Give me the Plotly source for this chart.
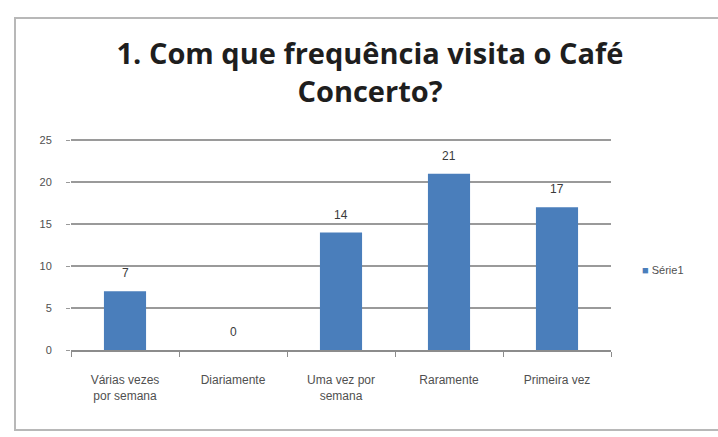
import plotly.graph_objects as go

# Survey answers: how often respondents visit the Café Concerto
categories = ["Várias vezes<br>por semana", "Diariamente", "Uma vez por<br>semana", "Raramente", "Primeira vez"]
counts = [7, 0, 14, 21, 17]
series_name = "Série1"
y_ticks = [0, 5, 10, 15, 20, 25]
y_max = 25.5  # a little headroom so the top gridline at 25 is drawn

bar_color = "#4a7ebb"
text_color = "#505050"
small_font = dict(family="Liberation Sans, Arial, sans-serif", size=11, color=text_color)

# plot box in pixels: value 0 sits at y=350, value 25 at y=140
px_per_unit = (350 - 140) / 25
plot_left, plot_right, plot_bottom = 71, 611, 350
plot_top = round(plot_bottom - y_max * px_per_unit)
pw, ph = plot_right - plot_left, plot_bottom - plot_top


def px_x(px):
    return (px - plot_left) / pw


def px_y(py):
    return (plot_bottom - py) / ph


fig = go.Figure()
fig.add_trace(go.Bar(
    x=categories,
    y=counts,
    name=series_name,
    marker=dict(color=bar_color, line=dict(width=0)),
    showlegend=False,
))

# value labels sitting above each bar
value_labels = [
    dict(x=c, y=v, text=str(v), xref="x", yref="y", showarrow=False,
         yanchor="middle", yshift=18, font=dict(family="Liberation Sans, Arial, sans-serif",
                                                size=12, color="#3a3a3a"))
    for c, v in zip(categories, counts)
]

# series key at the right of the plot
legend_key = dict(
    x=px_x(640), y=px_y(270), xref="paper", yref="paper", showarrow=False,
    text=f"<span style='color:{bar_color}'>■</span> {series_name}",
    xanchor="left", yanchor="middle",
    font=dict(family="Liberation Sans, Arial, sans-serif", size=11, color=text_color),
)

fig.update_layout(
    width=718,
    height=437,
    margin=dict(l=plot_left, r=718 - plot_right, t=plot_top, b=437 - plot_bottom),
    paper_bgcolor="white",
    plot_bgcolor="white",
    bargap=0.61,
    showlegend=False,
    title=dict(
        text="<b>1. Com que frequência visita o Café<br>Concerto?</b>",
        x=370 / 718,
        xanchor="center",
        xref="container",
        y=1 - 64 / 437,
        yanchor="middle",
        font=dict(family="Open Sans, Lato, sans-serif", size=29, color="#1e1e1e"),
    ),
    xaxis=dict(
        type="category",
        showgrid=False,
        showline=True,
        linecolor="#8c8c8c",
        linewidth=1.5,
        ticks="outside",
        tickson="boundaries",
        ticklen=5,
        tickcolor="#8c8c8c",
        tickfont=dict(family="Liberation Sans, Arial, sans-serif", size=12, color=text_color),
        ticklabelstandoff=18,
    ),
    yaxis=dict(
        range=[0, y_max],
        tickvals=y_ticks,
        showgrid=True,
        gridcolor="#9a9a9a",
        gridwidth=1.5,
        showline=False,
        ticks="outside",
        ticklen=4,
        tickcolor="#9a9a9a",
        tickfont=small_font,
        ticklabelstandoff=12,
        zeroline=False,
    ),
    annotations=value_labels + [legend_key],
    shapes=[dict(
        type="rect", xref="paper", yref="paper",
        x0=px_x(15), x1=px_x(740), y0=px_y(430), y1=px_y(18),
        line=dict(color="#b8b8b8", width=2),
        layer="below",
    )],
)

fig.write_html("out.html")
